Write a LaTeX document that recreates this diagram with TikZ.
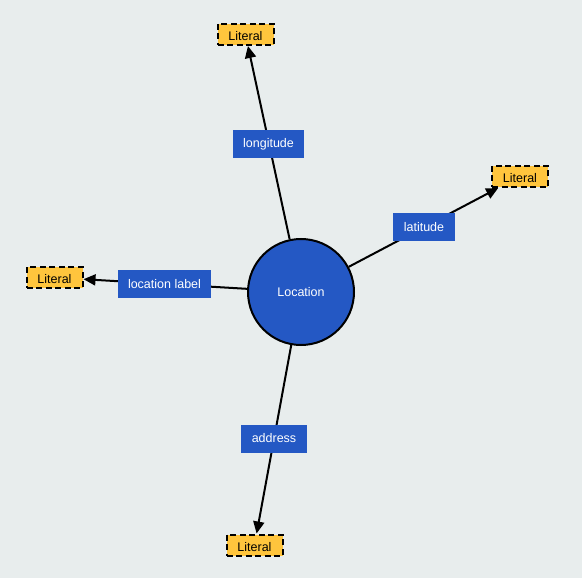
\documentclass[tikz,border=0pt]{standalone}
\usepackage{fontspec}
\setmainfont{Liberation Sans}
\usetikzlibrary{arrows.meta}
\definecolor{bg}{RGB}{232,237,237}
\definecolor{nodeblue}{RGB}{36,88,196}
\definecolor{lityellow}{RGB}{255,197,61}
\tikzset{
  x=1pt,y=-1pt,
  every node/.style={font=\fontsize{12.5}{14}\selectfont},
  classnode/.style={circle,draw=black,line width=2pt,fill=nodeblue,text=white,minimum size=106pt,inner sep=0pt},
  litnode/.style={rectangle,draw=black,dash pattern=on 6pt off 3.5pt,line width=2pt,fill=lityellow,text=black,minimum width=56pt,minimum height=21pt,inner sep=0pt,text height=12pt,text depth=0pt},
  proplabel/.style={rectangle,fill=nodeblue,text=white,minimum height=28pt,inner xsep=10.5pt,inner ysep=0pt},
  propedge/.style={line width=2pt,draw=black,-{Triangle[length=12pt,width=11pt]}}
}
\begin{document}
\begin{tikzpicture}
\fill[bg] (0,0) rectangle (582,578);
\useasboundingbox (0,0) rectangle (582,578);
\node[classnode] (loc) at (301,292) {Location};
\node[litnode] (lit1) at (245.5,34.5) {Literal};
\node[litnode] (lit2) at (520,176.5) {Literal};
\node[litnode] (lit3) at (54.5,277.5) {Literal};
\node[litnode] (lit4) at (254.5,545) {Literal};
\draw[propedge] (loc) -- (lit1);
\draw[propedge] (loc) -- (lit2);
\draw[propedge] (loc) -- (lit3);
\draw[propedge] (loc) -- (lit4);
\node[proplabel] (p1) at (268.5,144) {longitude};
\node[proplabel] (p2) at (424,227) {latitude};
\node[proplabel] (p3) at (164.5,284) {location label};
\node[proplabel] (p4) at (274,438.5) {address};
\end{tikzpicture}
\end{document}
